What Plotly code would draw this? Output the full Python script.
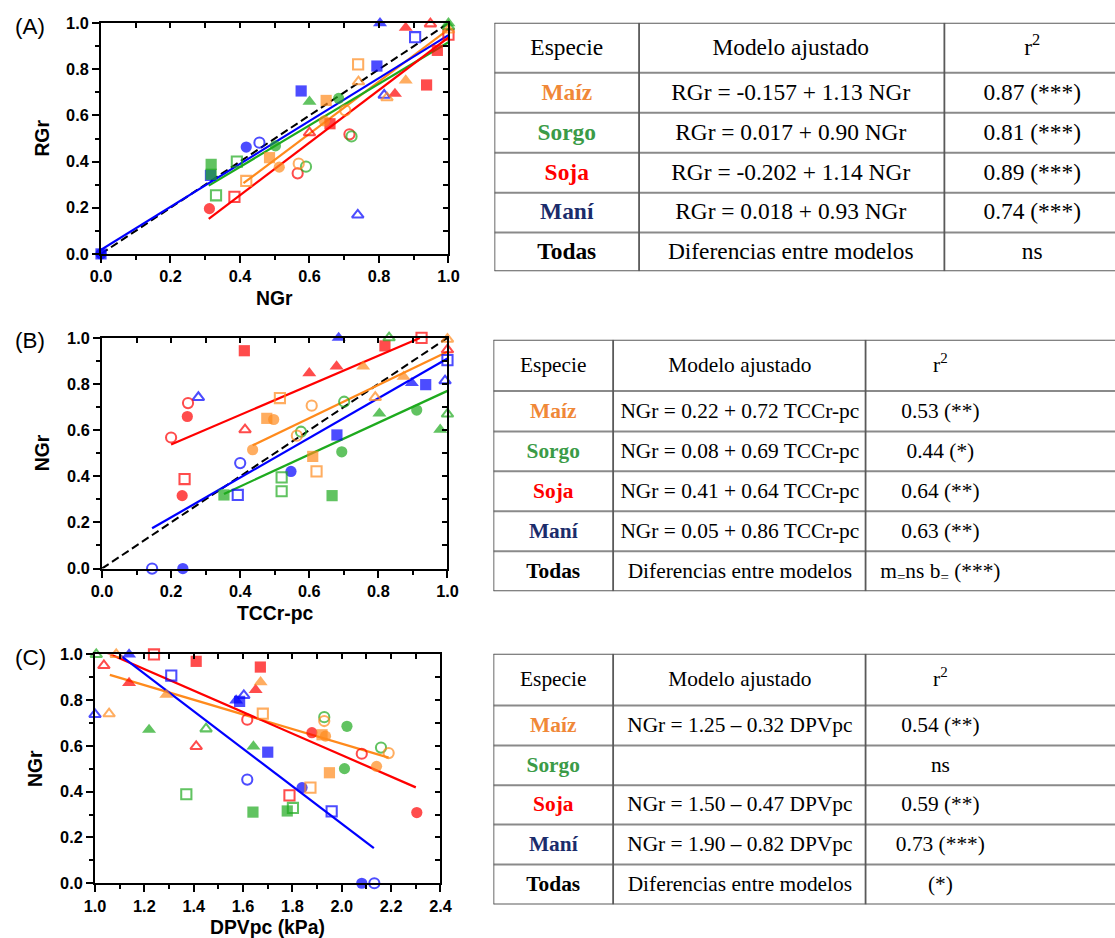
import plotly.graph_objects as go

W, H = 1115, 938          # tamaño final de la imagen
E = 8                     # margen por defecto del <body>
S = 0.982                 # escala con la que se fotografía la página
FW, FH = int(W / S - E), int(H / S - E)
K = 1 / S                 # tamaños de letra y marcador compensados

ESPECIES = ["Maíz", "Sorgo", "Soja", "Maní"]
COLOR_PUNTO = {"Maíz": "#FF8A1C", "Sorgo": "#1EAA1E", "Soja": "#FF0000", "Maní": "#0000FF"}
COLOR_TEXTO = {"Maíz": "#F08838", "Sorgo": "#3B9B47", "Soja": "#FF0000", "Maní": "#1B2C6B", "Todas": "#000000"}
# ambiente -> símbolo: 0 círculo lleno, 1 círculo vacío, 2 cuadrado lleno,
# 3 cuadrado vacío, 4 triángulo lleno, 5 triángulo vacío
SIMBOLO = ["circle", "circle-open", "square", "square-open", "triangle-up", "triangle-up-open"]

# ---------------- (A) RGr vs NGr ----------------
A_MAIZ_X = [0.418, 0.485, 0.513, 0.569, 0.648, 0.643, 0.703, 0.740, 0.741, 0.823, 0.877, 1.0]
A_MAIZ_Y = [0.316, 0.417, 0.376, 0.391, 0.665, 0.576, 0.622, 0.821, 0.746, 0.677, 0.752, 0.970]
A_MAIZ_T = [3, 2, 0, 1, 2, 0, 1, 3, 5, 5, 4, 5]

A_SORGO_X = [0.317, 0.317, 0.331, 0.391, 0.502, 0.590, 0.600, 0.684, 0.721, 1.0, 1.0]
A_SORGO_Y = [0.388, 0.345, 0.254, 0.400, 0.468, 0.378, 0.660, 0.674, 0.509, 1.0, 0.985]
A_SORGO_T = [2, 2, 3, 3, 0, 1, 4, 0, 1, 4, 5]

A_SOJA_X = [0.312, 0.384, 0.566, 0.600, 0.659, 0.715, 0.846, 0.877, 0.937, 0.948, 0.968, 1.0]
A_SOJA_Y = [0.196, 0.247, 0.349, 0.525, 0.564, 0.518, 0.694, 0.980, 0.732, 0.997, 0.882, 0.950]
A_SOJA_T = [0, 3, 1, 5, 2, 1, 4, 4, 2, 5, 2, 3]

A_MANI_X = [0.0, 0.0, 0.315, 0.418, 0.456, 0.576, 0.739, 0.794, 0.803, 0.815, 0.904]
A_MANI_Y = [0.0, 0.0, 0.340, 0.463, 0.482, 0.706, 0.169, 0.814, 1.0, 0.688, 0.939]
A_MANI_T = [2, 0, 2, 0, 1, 2, 5, 2, 4, 5, 3]

# ordenada, pendiente, x inicial, x final
A_AJUSTE = {"Maíz": (-0.157, 1.13, 0.41, 1.0), "Sorgo": (0.017, 0.90, 0.31, 1.0),
            "Soja": (-0.202, 1.14, 0.31, 1.0), "Maní": (0.018, 0.93, 0.0, 1.0)}
A_R2 = ["0.87 (***)", "0.81 (***)", "0.89 (***)", "0.74 (***)", "ns"]

# ---------------- (B) NGr vs TCCr-pc ----------------
B_MAIZ_X = [0.436, 0.477, 0.497, 0.515, 0.564, 0.607, 0.610, 0.621, 0.756, 0.791, 0.873, 1.0]
B_MAIZ_Y = [0.515, 0.651, 0.646, 0.739, 0.576, 0.706, 0.486, 0.421, 0.876, 0.742, 0.832, 0.994]
B_MAIZ_T = [0, 2, 0, 3, 1, 1, 2, 3, 4, 5, 4, 5]

B_SORGO_X = [0.353, 0.520, 0.520, 0.576, 0.666, 0.694, 0.701, 0.803, 0.831, 0.911, 0.979, 1.0]
B_SORGO_Y = [0.319, 0.395, 0.335, 0.593, 0.316, 0.506, 0.723, 0.672, 1.0, 0.687, 0.602, 0.670]
B_SORGO_T = [2, 3, 3, 1, 2, 0, 1, 4, 5, 0, 4, 5]

B_SOJA_X = [0.200, 0.232, 0.239, 0.247, 0.249, 0.412, 0.414, 0.600, 0.679, 0.819, 0.925, 1.0]
B_SOJA_Y = [0.568, 0.316, 0.388, 0.659, 0.717, 0.944, 0.602, 0.847, 0.876, 0.965, 1.0, 0.948]
B_SOJA_T = [1, 0, 3, 0, 1, 2, 5, 4, 4, 2, 3, 5]

B_MANI_X = [0.145, 0.234, 0.279, 0.393, 0.400, 0.547, 0.680, 0.685, 0.897, 0.937, 0.993, 1.0]
B_MANI_Y = [0.0, 0.0, 0.742, 0.319, 0.457, 0.421, 0.579, 1.0, 0.804, 0.797, 0.814, 0.903]
B_MANI_T = [1, 0, 5, 3, 1, 0, 2, 4, 4, 2, 5, 3]

B_AJUSTE = {"Maíz": (0.22, 0.72, 0.436, 1.0), "Sorgo": (0.08, 0.69, 0.353, 1.0),
            "Soja": (0.41, 0.64, 0.20, 0.92), "Maní": (0.05, 0.86, 0.145, 1.0)}
B_R2 = ["0.53 (**)", "0.44 (*)", "0.64 (**)", "0.63 (**)", "m<sub>=</sub>ns b<sub>=</sub> (***)"]

# ---------------- (C) NGr vs DPVpc ----------------
C_MAIZ_X = [1.057, 1.086, 1.289, 1.671, 1.680, 1.873, 1.920, 1.934, 1.929, 1.950, 2.141, 2.190]
C_MAIZ_Y = [0.741, 1.0, 0.824, 0.879, 0.741, 0.418, 0.649, 0.643, 0.709, 0.483, 0.511, 0.569]
C_MAIZ_T = [5, 5, 4, 4, 3, 3, 2, 0, 1, 2, 0, 1]

C_SORGO_X = [1.005, 1.219, 1.370, 1.450, 1.642, 1.640, 1.779, 1.802, 1.929, 2.011, 2.021, 2.159]
C_SORGO_Y = [1.0, 0.671, 0.389, 0.675, 0.598, 0.311, 0.316, 0.329, 0.726, 0.501, 0.686, 0.593]
C_SORGO_T = [5, 4, 3, 5, 4, 2, 2, 3, 1, 0, 0, 1]

C_SOJA_X = [1.036, 1.138, 1.239, 1.410, 1.410, 1.617, 1.651, 1.670, 1.788, 1.879, 2.081, 2.304]
C_SOJA_Y = [0.952, 0.876, 1.0, 0.970, 0.598, 0.715, 0.845, 0.945, 0.384, 0.658, 0.566, 0.309]
C_SOJA_T = [5, 4, 3, 2, 5, 1, 4, 2, 3, 0, 1, 0]

C_MANI_X = [1.0, 1.138, 1.309, 1.572, 1.586, 1.603, 1.617, 1.700, 1.839, 1.959, 2.081, 2.132]
C_MANI_Y = [0.738, 1.0, 0.908, 0.799, 0.795, 0.821, 0.453, 0.573, 0.418, 0.314, 0.0, 0.0]
C_MANI_T = [5, 4, 3, 4, 2, 5, 1, 2, 0, 3, 0, 1]

C_AJUSTE = {"Maíz": (1.25, -0.32, 1.06, 2.19), "Soja": (1.50, -0.47, 1.05, 2.30),
            "Maní": (1.90, -0.82, 1.10, 2.13)}
C_R2 = ["0.54 (**)", "ns", "0.59 (**)", "0.73 (***)", "(*)"]

ENCABEZADO = ["Especie", "Modelo ajustado", "r<sup>2</sup>"]
FILAS = ESPECIES + ["Todas"]
DIFERENCIAS = "Diferencias entre modelos"

fig = go.Figure()


def px(v):
    """posición horizontal en la imagen -> coordenada paper"""
    return min(max((v / S - E) / FW, 0.0), 1.0)


def py(v):
    """posición vertical en la imagen -> coordenada paper"""
    return min(max(1 - (v / S - E) / FH, 0.0), 1.0)


def ecuacion(y_lab, x_lab, a, b, dec_a, dec_b, guion):
    signo = "+" if b >= 0 else guion
    return f"{y_lab} = {a:.{dec_a}f} {signo} {abs(b):.{dec_b}f} {x_lab}"


PANELES = [
    dict(letra="(A)", xa="x", ya="y", xo="x4", yo="y4", ix=1, dx=(98, 446), dy=(22, 253),
         rx=(0.0, 1.0), ytit="RGr", xtit="NGr", identidad=True, ajuste=A_AJUSTE,
         datos={"Maíz": (A_MAIZ_X, A_MAIZ_Y, A_MAIZ_T), "Sorgo": (A_SORGO_X, A_SORGO_Y, A_SORGO_T),
                "Soja": (A_SOJA_X, A_SOJA_Y, A_SOJA_T), "Maní": (A_MANI_X, A_MANI_Y, A_MANI_T)}),
    dict(letra="(B)", xa="x2", ya="y2", xo="x5", yo="y5", ix=2, dx=(99, 445), dy=(337, 568),
         rx=(0.0, 1.0), ytit="NGr", xtit="TCCr-pc", identidad=True, ajuste=B_AJUSTE,
         datos={"Maíz": (B_MAIZ_X, B_MAIZ_Y, B_MAIZ_T), "Sorgo": (B_SORGO_X, B_SORGO_Y, B_SORGO_T),
                "Soja": (B_SOJA_X, B_SOJA_Y, B_SOJA_T), "Maní": (B_MANI_X, B_MANI_Y, B_MANI_T)}),
    dict(letra="(C)", xa="x3", ya="y3", xo="x6", yo="y6", ix=3, dx=(92, 438), dy=(654, 883),
         rx=(1.0, 2.4), ytit="NGr", xtit="DPVpc (kPa)", identidad=False, ajuste=C_AJUSTE,
         datos={"Maíz": (C_MAIZ_X, C_MAIZ_Y, C_MAIZ_T), "Sorgo": (C_SORGO_X, C_SORGO_Y, C_SORGO_T),
                "Soja": (C_SOJA_X, C_SOJA_Y, C_SOJA_T), "Maní": (C_MANI_X, C_MANI_Y, C_MANI_T)}),
]

RY = (0.0, 1.0)
FUENTE_EJE = "Liberation Sans"
FUENTE_TABLA = "Liberation Serif"

for p in PANELES:
    xa, ya = p["xa"], p["ya"]
    # línea 1:1
    if p["identidad"]:
        fig.add_trace(go.Scatter(x=list(p["rx"]), y=list(p["rx"]), xaxis=xa, yaxis=ya, mode="lines",
                                 line=dict(color="black", width=2 * K, dash="8px,4px"),
                                 hoverinfo="skip", showlegend=False))
    # rectas ajustadas
    for esp in ESPECIES:
        if esp not in p["ajuste"]:
            continue
        a, b, x0, x1 = p["ajuste"][esp]
        fig.add_trace(go.Scatter(x=[x0, x1], y=[a + b * x0, a + b * x1], xaxis=xa, yaxis=ya,
                                 mode="lines", line=dict(color=COLOR_PUNTO[esp], width=2.2 * K),
                                 hoverinfo="skip", showlegend=False))
    # puntos
    for esp in ["Maní", "Soja", "Sorgo", "Maíz"]:
        xs, ys, ts = p["datos"][esp]
        simbolos = [SIMBOLO[t] for t in ts]
        tam = [(10 if t % 2 else 11 if t < 4 else 12) * K for t in ts]
        borde = [2 * K if t % 2 else 0 for t in ts]
        fig.add_trace(go.Scatter(x=xs, y=ys, xaxis=xa, yaxis=ya, mode="markers", cliponaxis=False,
                                 marker=dict(symbol=simbolos, size=tam, color=COLOR_PUNTO[esp],
                                             line=dict(width=borde, color=COLOR_PUNTO[esp])),
                                 name=esp, showlegend=False))

    base = dict(showgrid=False, zeroline=False, showline=True, linecolor="black", linewidth=2,
                mirror=True, ticks="outside", ticklen=7, tickwidth=2, tickcolor="black",
                dtick=0.2, tickformat=".1f", fixedrange=True,
                tickfont=dict(family=FUENTE_EJE, size=16 * K, color="black", weight="bold"))
    sufijo = "" if p["ix"] == 1 else str(p["ix"])
    fig.layout["xaxis" + sufijo] = dict(base, domain=[px(p["dx"][0]), px(p["dx"][1])], range=list(p["rx"]),
                                        anchor=ya, tick0=p["rx"][0],
                                        minor=dict(dtick=0.1, tick0=p["rx"][0], ticks="outside", ticklen=4,
                                                   tickwidth=2, tickcolor="black", showgrid=False))
    fig.layout["yaxis" + sufijo] = dict(base, domain=[py(p["dy"][1]), py(p["dy"][0])], range=list(RY),
                                        anchor=xa, tick0=0,
                                        minor=dict(dtick=0.1, tick0=0, ticks="outside", ticklen=4,
                                                   tickwidth=2, tickcolor="black", showgrid=False))
    # marcas interiores en los lados superior y derecho
    espejo = dict(showgrid=False, zeroline=False, showline=False, showticklabels=False,
                  ticks="inside", ticklen=5, tickwidth=2, tickcolor="black", dtick=0.1, fixedrange=True)
    fig.layout["xaxis" + p["xo"][1:]] = dict(espejo, overlaying=xa, anchor=ya, side="top",
                                             range=list(p["rx"]), tick0=p["rx"][0])
    fig.layout["yaxis" + p["yo"][1:]] = dict(espejo, overlaying=ya, anchor=xa, side="right",
                                             range=list(RY), tick0=0)
    fig.add_trace(go.Scatter(x=[None], y=[None], xaxis=p["xo"], yaxis=ya, mode="markers",
                             hoverinfo="skip", showlegend=False))
    fig.add_trace(go.Scatter(x=[None], y=[None], xaxis=xa, yaxis=p["yo"], mode="markers",
                             hoverinfo="skip", showlegend=False))

    cx = (p["dx"][0] + p["dx"][1]) / 2
    cy = (p["dy"][0] + p["dy"][1]) / 2
    fig.add_annotation(text=p["letra"], xref="paper", yref="paper", x=px(27), y=py(p["dy"][0] + 3),
                       showarrow=False, xanchor="center", yanchor="middle",
                       font=dict(family=FUENTE_EJE, size=22 * K, color="black"))
    fig.add_annotation(text=f"<b>{p['ytit']}</b>", xref="paper", yref="paper",
                       x=px(p["dx"][0] - 60), y=py(cy), textangle=-90, showarrow=False,
                       xanchor="center", yanchor="middle",
                       font=dict(family=FUENTE_EJE, size=19 * K, color="black"))
    fig.add_annotation(text=f"<b>{p['xtit']}</b>", xref="paper", yref="paper",
                       x=px(cx), y=py(p["dy"][1] + 44), showarrow=False,
                       xanchor="center", yanchor="middle",
                       font=dict(family=FUENTE_EJE, size=19 * K, color="black"))

# ---------------- tablas (ejes ocultos en píxeles de la tabla) ----------------
mod_a = [ecuacion("RGr", "NGr", A_AJUSTE[e][0], A_AJUSTE[e][1], 3, 2, "-") for e in ESPECIES] + [DIFERENCIAS]
mod_b = [ecuacion("NGr", "TCCr-pc", B_AJUSTE[e][0], B_AJUSTE[e][1], 2, 2, "-") for e in ESPECIES] + [DIFERENCIAS]
mod_c = [ecuacion("NGr", "DPVpc", C_AJUSTE[e][0], C_AJUSTE[e][1], 2, 2, "–") if e in C_AJUSTE else ""
         for e in ESPECIES] + [DIFERENCIAS]

BORDE_DER = W  # borde derecho de las tablas

TABLAS = [
    dict(n=7, x0=492, dy=(21.7, 270.3), filas=[0, 50, 90, 130, 170, 210, 248.6],
         cols=[0, 145, 451], centros=[72.5, 297, 539], tam=23, modelos=mod_a, r2=A_R2),
    dict(n=8, x0=491, dy=(339, 590.7), filas=[0, 51.3, 91.7, 131.7, 171.7, 211.7, 251.7],
         cols=[0, 120, 373], centros=[60, 247, 448], tam=21, modelos=mod_b, r2=B_R2),
    dict(n=9, x0=491, dy=(653.3, 904.3), filas=[0, 51.7, 91.7, 131.7, 171, 211, 251],
         cols=[0, 120, 373], centros=[60, 247, 448], tam=21, modelos=mod_c, r2=C_R2),
]

for t in TABLAS:
    xa, ya = f"x{t['n']}", f"y{t['n']}"
    ancho = BORDE_DER - t["x0"]
    alto = t["filas"][-1]
    fig.layout[f"xaxis{t['n']}"] = dict(domain=[px(t["x0"]), px(BORDE_DER)], range=[0, ancho],
                                        anchor=ya, visible=False, fixedrange=True)
    fig.layout[f"yaxis{t['n']}"] = dict(domain=[py(t["dy"][1]), py(t["dy"][0])], range=[alto, 0],
                                        anchor=xa, visible=False, fixedrange=True)
    # líneas interiores (gris claro) y bordes (gris oscuro)
    lx, ly = [], []
    for f in t["filas"][1:-1]:
        lx += [0, ancho, None]
        ly += [f, f, None]
    fig.add_trace(go.Scatter(x=lx, y=ly, xaxis=xa, yaxis=ya, mode="lines", cliponaxis=False,
                             line=dict(color="#8a8a8a", width=2), hoverinfo="skip", showlegend=False))
    bx, by = [], []
    for f in (t["filas"][0], t["filas"][-1]):
        bx += [0, ancho, None]
        by += [f, f, None]
    for c in t["cols"]:
        bx += [c, c, None]
        by += [0, alto, None]
    fig.add_trace(go.Scatter(x=bx, y=by, xaxis=xa, yaxis=ya, mode="lines", cliponaxis=False,
                             line=dict(color="#5a5a5a", width=1.8), hoverinfo="skip", showlegend=False))
    # textos de las celdas
    tx, ty, tt, tc = [], [], [], []
    yc = [(t["filas"][i] + t["filas"][i + 1]) / 2 + 1 for i in range(len(t["filas"]) - 1)]
    for j, txt in enumerate(ENCABEZADO):
        tx.append(t["centros"][j]); ty.append(yc[0]); tt.append(txt); tc.append("black")
    for i, esp in enumerate(FILAS):
        fila = [f"<b>{esp}</b>", t["modelos"][i], t["r2"][i]]
        colores = [COLOR_TEXTO[esp], "black", "black"]
        for j in range(3):
            tx.append(t["centros"][j]); ty.append(yc[i + 1]); tt.append(fila[j]); tc.append(colores[j])
    fig.add_trace(go.Scatter(x=tx, y=ty, text=tt, xaxis=xa, yaxis=ya, mode="text", cliponaxis=False,
                             textposition="middle center",
                             textfont=dict(family=FUENTE_TABLA, size=t["tam"] * K, color=tc),
                             hoverinfo="skip", showlegend=False))

fig.update_layout(width=FW, height=FH, margin=dict(l=0, r=0, t=0, b=0),
                  paper_bgcolor="white", plot_bgcolor="white", showlegend=False)

fig.write_html("out.html")
